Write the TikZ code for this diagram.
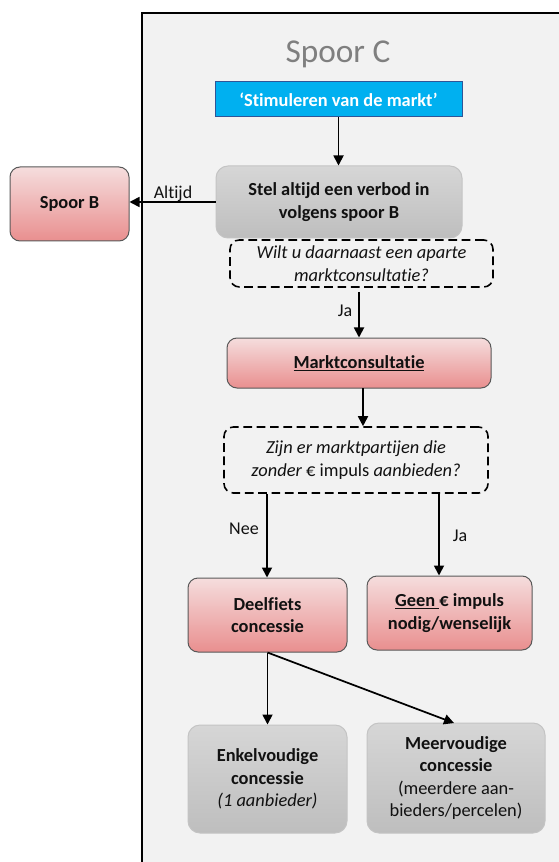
\documentclass[tikz,border=0pt]{standalone}
\usepackage{fontspec}
\setmainfont{Carlito}[Ligatures=NoCommon]
\usetikzlibrary{arrows.meta,calc}
\definecolor{bgc}{HTML}{F2F2F2}
\definecolor{blueb}{HTML}{00B0F0}
\definecolor{bluebd}{HTML}{2F5597}
\definecolor{pinkt}{HTML}{F5DDDD}
\definecolor{pinkb}{HTML}{E98F8F}
\definecolor{grayt}{HTML}{D6D6D6}
\definecolor{grayb}{HTML}{BEBEBE}
\definecolor{graybd}{HTML}{C4C4C4}
\definecolor{pinkbd}{HTML}{595959}
\definecolor{titlec}{HTML}{7F7F7F}
\definecolor{txtc}{HTML}{111111}
\begin{document}
\begin{tikzpicture}[x=0.75pt,y=-0.75pt,
  txt/.style={font=\fontsize{13.8}{16.9}\selectfont, align=center, inner sep=0pt, text=txtc},
  boldtxt/.style={font=\fontsize{13.8}{16.9}\selectfont\bfseries, align=center, inner sep=0pt, text=txtc},
  pinkbox/.style={boldtxt, rounded corners=7.5pt, draw=pinkbd, line width=0.75pt, top color=pinkt, bottom color=pinkb},
  graybox/.style={boldtxt, rounded corners=9pt, draw=graybd, line width=0.75pt, top color=grayt, bottom color=grayb},
  dashbox/.style={txt, rounded corners=7pt, draw=black, line width=1.2pt, dash pattern=on 6.5pt off 3.5pt},
  arr/.style={-{Triangle[width=7.5pt,length=7.5pt]}, line width=1.3pt, black},
  lbl/.style={font=\fontsize{13.5}{16.5}\selectfont, inner sep=0pt, text=txtc}
]
\useasboundingbox (0,0) rectangle (558,862);
\fill[bgc] (142,13) rectangle (562,866);
\draw[line width=1.3pt] (562,13) -- (142,13) -- (142,866);

\node[font=\fontsize{25}{30}\selectfont, text=titlec, anchor=base, inner sep=0pt] (title) at (338,63) {Spoor C};

\node[boldtxt, text=white, fill=blueb, draw=bluebd, line width=0.75pt,
  minimum width=247*0.75pt, minimum height=35*0.75pt] (blue) at (338.5,99.5) {‘Stimuleren van de markt’};

\node[graybox, minimum width=246*0.75pt, minimum height=72*0.75pt] (stel) at (339,202) {Stel altijd een verbod in\\volgens spoor B};

\node[pinkbox, minimum width=119*0.75pt, minimum height=74*0.75pt] (spoorb) at (69.5,204) {Spoor B};

\node[dashbox, font=\fontsize{13.8}{16.9}\selectfont\itshape, minimum width=263*0.75pt, minimum height=47*0.75pt] (q1) at (361.5,263.5) {Wilt u daarnaast een aparte\\marktconsultatie?};

\node[pinkbox, minimum width=264*0.75pt, minimum height=50*0.75pt] (markt) at (359,363) {\underline{Marktconsultatie}};

\node[dashbox, minimum width=264*0.75pt, minimum height=66*0.75pt] (q2) at (356,460) {\textit{Zijn er marktpartijen die}\\\textit{zonder} € impuls \textit{aanbieden?}};

\node[pinkbox, minimum width=159*0.75pt, minimum height=74*0.75pt] (deel) at (267.5,615) {Deelfiets\\concessie};

\node[pinkbox, minimum width=165*0.75pt, minimum height=74*0.75pt] (geen) at (449.5,613) {\underline{Geen~}€ impuls\\nodig/wenselijk};

\node[graybox, minimum width=159*0.75pt, minimum height=108*0.75pt] (enkel) at (267.5,779) {Enkelvoudige\\concessie\\\mdseries\itshape (1 aanbieder)};

\node[graybox, minimum width=178*0.75pt, minimum height=110*0.75pt] (meer) at (456,778) {Meervoudige\\concessie\\\mdseries (meerdere aan-\\\mdseries bieders/percelen)};

% connectors
\draw[arr] (blue.south) -- (stel.north -| blue.south);
\draw[arr] (stel.west) -- (stel.west -| spoorb.east);
\node[lbl, anchor=base] (altijd) at (173,199) {Altijd};

\coordinate (c1) at (359,292);
\draw[arr] (c1) -- (c1 |- markt.north);
\node[lbl, anchor=base] (ja1) at (345,317) {Ja};

\coordinate (c2) at (363,388);
\draw[arr] (c2) -- (c2 |- q2.north);

\coordinate (c3) at (267,0);
\coordinate (c4) at (439,0);
\draw[arr] (q2.south -| c3) -- (deel.north -| c3);
\draw[arr] (q2.south -| c4) -- (geen.north -| c4);
\node[lbl, anchor=base] (nee) at (244,534) {Nee};
\node[lbl, anchor=base] (ja2) at (460,541) {Ja};

\draw[arr] (deel.south) -- (enkel.north -| deel.south);
\coordinate (c5) at (454,723);
\draw[arr] (deel.south) -- (c5);
\end{tikzpicture}
\end{document}
